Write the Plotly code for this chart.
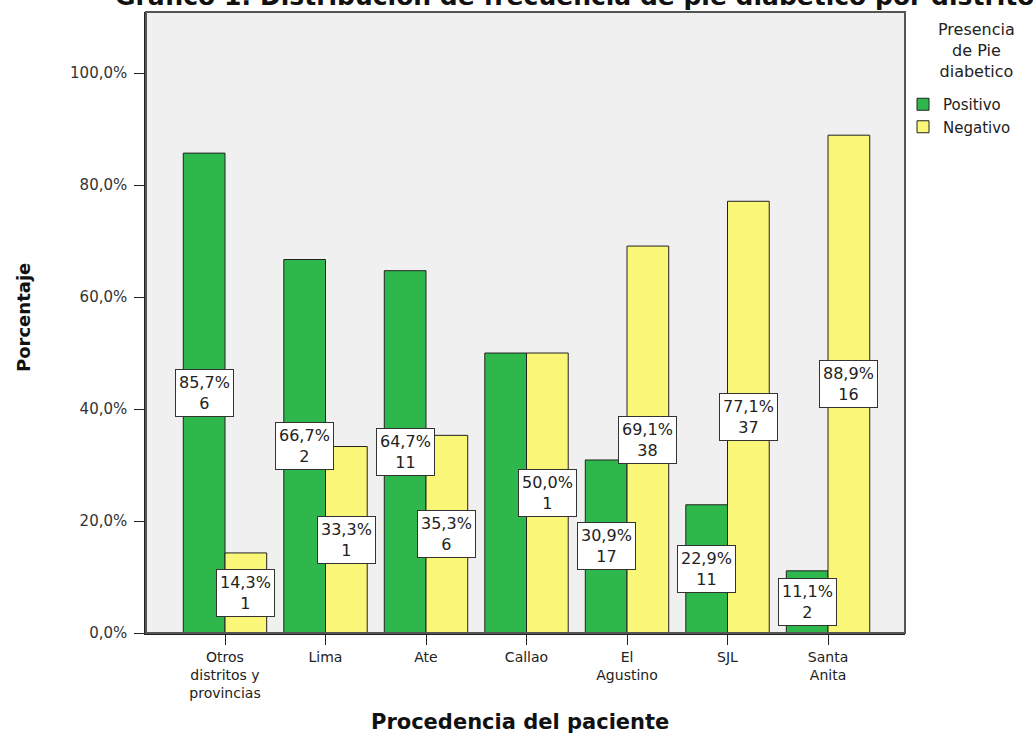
import plotly.graph_objects as go

categories = ["Otros<br>distritos y<br>provincias", "Lima", "Ate", "Callao",
              "El<br>Agustino", "SJL", "Santa<br>Anita"]
positivo_pct = [85.7, 66.7, 64.7, 50.0, 30.9, 22.9, 11.1]
negativo_pct = [14.3, 33.3, 35.3, 50.0, 69.1, 77.1, 88.9]
positivo_n = [6, 2, 11, 1, 17, 11, 2]
negativo_n = [1, 1, 6, 1, 38, 37, 16]
positivo_label_shown = [True, True, True, False, True, True, True]
negativo_label_shown = [True, True, True, True, True, True, True]
y_ticks = [0, 20, 40, 60, 80, 100]
y_ticklabels = ["0,0%", "20,0%", "40,0%", "60,0%", "80,0%", "100,0%"]

GREEN = "#2eb84b"
YELLOW = "#faf678"
FONT = "DejaVu Sans, Verdana, sans-serif"

x_idx = list(range(len(categories)))

fig = go.Figure()
fig.add_trace(go.Bar(x=x_idx, y=positivo_pct, name="Positivo",
                     marker=dict(color=GREEN, line=dict(color="#222222", width=1))))
fig.add_trace(go.Bar(x=x_idx, y=negativo_pct, name="Negativo",
                     marker=dict(color=YELLOW, line=dict(color="#222222", width=1))))

BARGAP = 0.17
half = (1 - BARGAP) / 4.0

def fmt(v):
    return ("%.1f" % v).replace(".", ",") + "%"

annotations = []
for i in x_idx:
    for vals, ns, shown, off in ((positivo_pct, positivo_n, positivo_label_shown, -half),
                                 (negativo_pct, negativo_n, negativo_label_shown, half)):
        if not shown[i]:
            continue
        annotations.append(dict(
            x=i + off, y=vals[i] / 2.0, xref="x", yref="y",
            text=fmt(vals[i]) + "<br>" + str(ns[i]),
            showarrow=False, font=dict(family=FONT, size=16, color="#222222"),
            bgcolor="white", bordercolor="#333333", borderwidth=1, borderpad=3,
            align="center", xanchor="center", yanchor="middle"))

# title (cut off at top as in the reference)
annotations.append(dict(
    text="Gráfico 1: Distribución de frecuencia de pie diabetico por distrito",
    xref="paper", yref="paper", x=(113 - 146) / 759, y=1.0, yshift=-1,
    xanchor="left", yanchor="bottom", showarrow=False,
    font=dict(family=FONT, size=25, color="#111111", weight="bold")))
# axis titles
annotations.append(dict(
    text="Procedencia del paciente", xref="paper", yref="paper",
    x=(520 - 146) / 759, y=(633 - 722) / 621, xanchor="center", yanchor="middle",
    showarrow=False, font=dict(family=FONT, size=21, color="#111111", weight="bold")))
annotations.append(dict(
    text="Porcentaje", xref="paper", yref="paper", textangle=-90,
    x=(23 - 146) / 759, y=(633 - 318) / 621, xanchor="center", yanchor="middle",
    showarrow=False, font=dict(family=FONT, size=18, color="#111111", weight="bold")))
# legend title
annotations.append(dict(
    text="Presencia<br>de Pie<br>diabetico", xref="paper", yref="paper",
    x=(977 - 146) / 759, y=(633 - 18) / 621, xanchor="center", yanchor="top",
    showarrow=False, align="center",
    font=dict(family=FONT, size=16, color="#222222")))

fig.update_layout(
    width=1033, height=738,
    margin=dict(l=146, r=128, t=12, b=105),
    paper_bgcolor="white", plot_bgcolor="#f0f0f0",
    barmode="group", bargap=BARGAP, bargroupgap=0,
    showlegend=True,
    legend=dict(x=(903 - 146) / 759, y=(633 - 88) / 621, xanchor="left", yanchor="top",
                font=dict(family=FONT, size=15, color="#222222"),
                bgcolor="rgba(0,0,0,0)", itemwidth=30, tracegroupgap=0),
    annotations=annotations,
    xaxis=dict(range=[-0.786, 6.766], tickmode="array", tickvals=x_idx, ticktext=categories,
               ticks="outside", ticklen=10, tickcolor="#222222",
               showline=True, linecolor="#222222", linewidth=1.5,
               showgrid=False, zeroline=False,
               tickfont=dict(family=FONT, size=14, color="#222222")),
    yaxis=dict(range=[0, 110.9], tickmode="array", tickvals=y_ticks, ticktext=y_ticklabels,
               ticks="outside", ticklen=10, tickcolor="#222222", ticklabelstandoff=4,
               showline=True, linecolor="#222222", linewidth=1.5,
               showgrid=False, zeroline=False,
               tickfont=dict(family=FONT, size=15, color="#333333")),
    shapes=[dict(type="rect", xref="paper", yref="paper", x0=0, x1=1, y0=0, y1=1,
                 line=dict(color="#555555", width=2), layer="above")],
)

fig.write_html("out.html", config={"displayModeBar": False},
               post_script="document.body.style.margin='0';document.body.style.overflow='hidden';")
